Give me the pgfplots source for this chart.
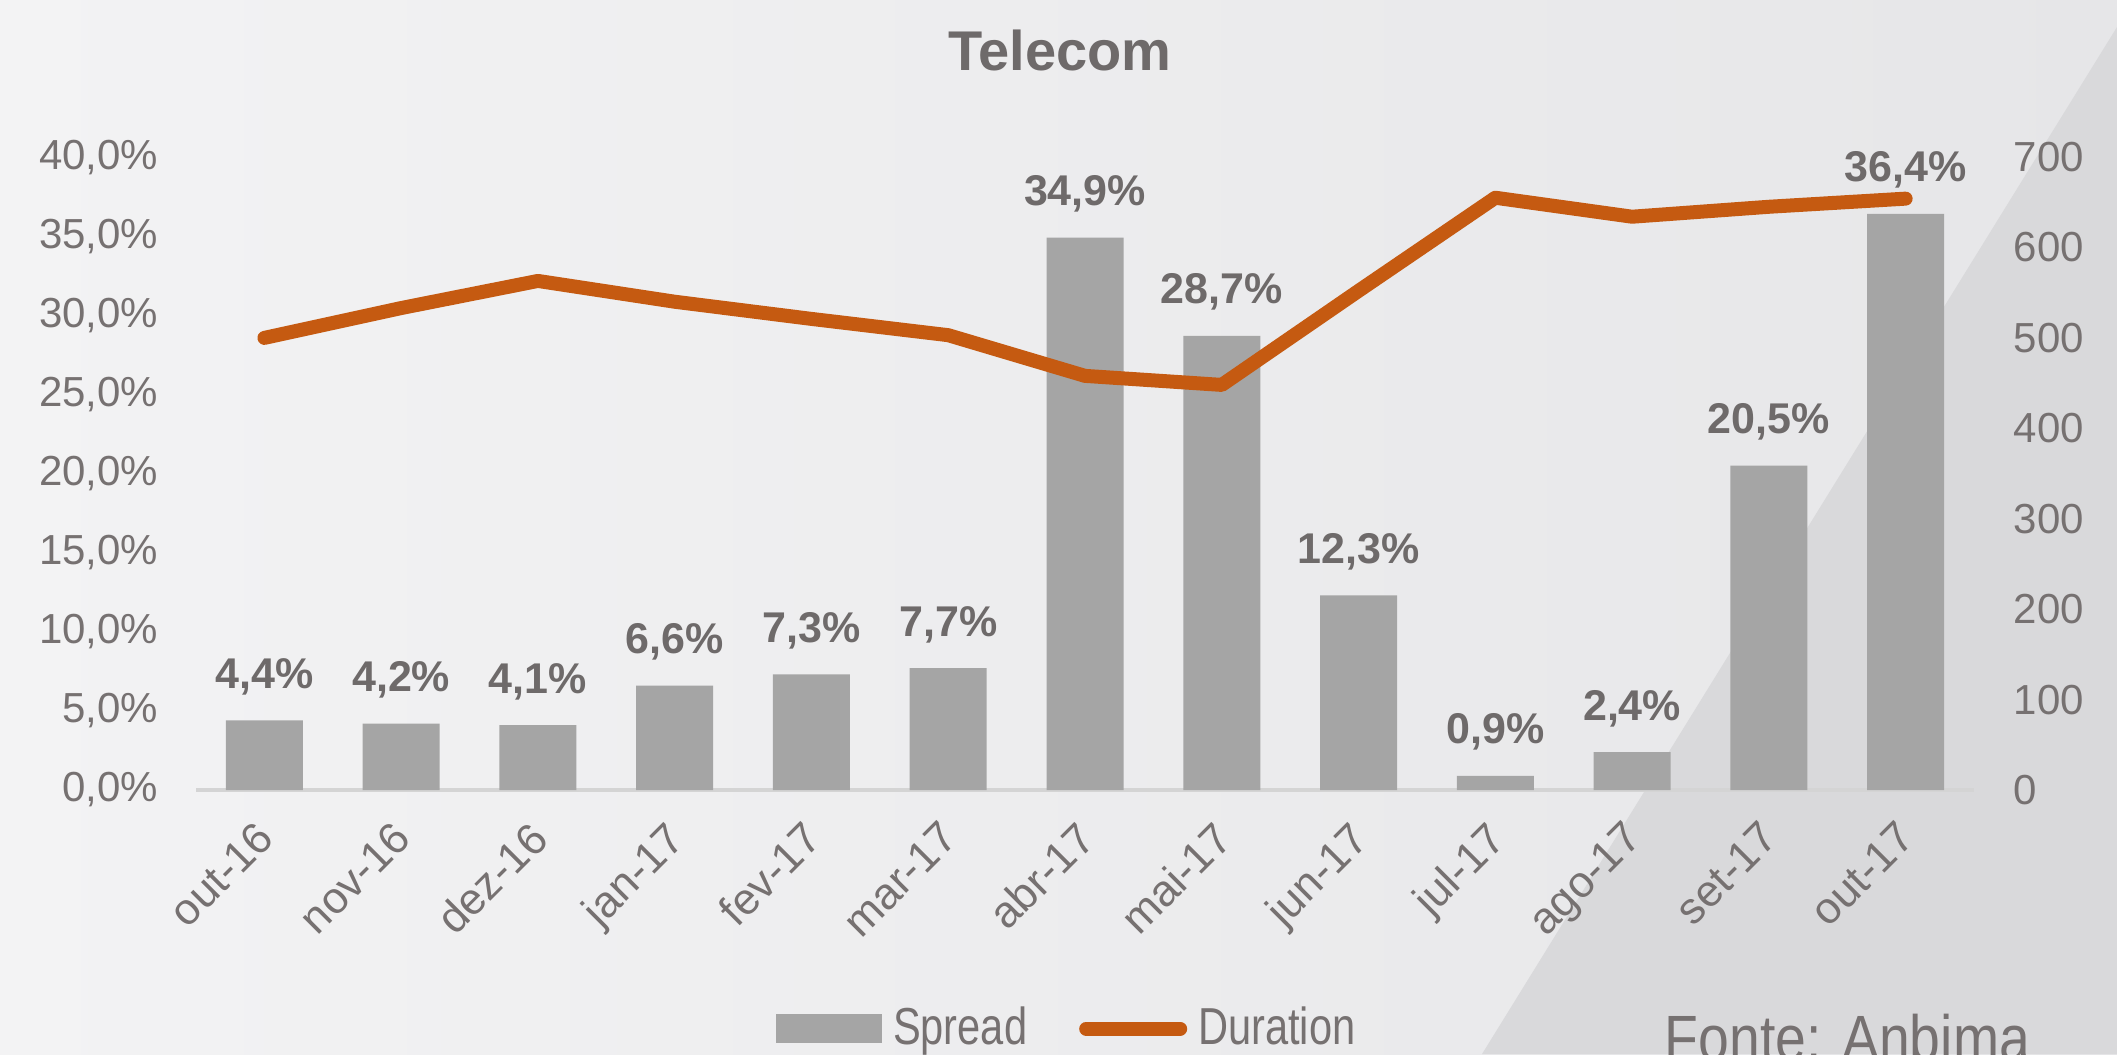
\documentclass[border=0pt]{standalone}
\usepackage{fontspec}
\setmainfont{Liberation Sans}
\usepackage{pgfplots}
\pgfplotsset{compat=1.18}
\definecolor{barcol}{HTML}{A5A5A5}
\definecolor{linecol}{HTML}{C55A11}
\definecolor{txtcol}{HTML}{767171}
\definecolor{lblcol}{HTML}{6E6A6A}
\definecolor{bgA}{HTML}{F3F3F4}
\definecolor{bgB}{HTML}{E6E6E8}
\definecolor{bgC}{HTML}{D9D9DB}
\definecolor{basecol}{HTML}{D4D4D4}
\pgfkeys{/pgf/number format/assume math mode=true}
\newcommand{\tickfont}{\fontsize{10.5}{12}\selectfont}
\newcommand{\xtickfont}{\fontsize{11}{13}\selectfont}
\newcommand{\lblfont}{\fontsize{10.75}{12}\selectfont}
\begin{document}
\begin{tikzpicture}[x=1pt,y=1pt]
\shade[left color=bgA, right color=bgB] (0,0) rectangle (529.25,263.5);
\fill[bgC] (370.5,0) -- (529.25,0) -- (529.25,256.75) -- cycle;
\begin{axis}[
  at={(49pt,66pt)}, anchor=south west, scale only axis,
  width=444.5pt, height=158.25pt,
  xmin=-0.5, xmax=12.5, ymin=0, ymax=40,
  axis x line=bottom, axis y line=left,
  x axis line style={-, draw=basecol, line width=1pt},
  y axis line style={draw=none},
  major tick length=0pt,
  xtick={0,...,12},
  xticklabels={out-16,nov-16,dez-16,jan-17,fev-17,mar-17,abr-17,mai-17,jun-17,jul-17,ago-17,set-17,out-17},
  xticklabel style={anchor=north east, inner sep=0pt, xshift=-2.5pt, yshift=-7pt, rotate=45, font=\xtickfont, text=txtcol},
  ytick={0,5,10,15,20,25,30,35,40},
  yticklabels={{0,0\%},{5,0\%},{10,0\%},{15,0\%},{20,0\%},{25,0\%},{30,0\%},{35,0\%},{40,0\%}},
  yticklabel style={anchor=east, inner sep=0pt, xshift=-9.25pt, font=\tickfont, text=txtcol},
  clip=false,
]
\addplot[ybar, bar width=19.25pt, fill=barcol, draw=none,
  point meta=y,
  nodes near coords={\pgfmathprintnumber[fixed,fixed zerofill,precision=1,use comma,assume math mode=true]{\pgfplotspointmeta}\%},
  every node near coord/.append style={anchor=base, yshift=8pt, inner sep=0pt, font=\bfseries\lblfont, text=lblcol},
] coordinates {
  (0,4.4) (1,4.2) (2,4.1) (3,6.6) (4,7.3) (5,7.7) (6,34.9)
  (7,28.7) (8,12.3) (9,0.9) (10,2.4) (11,20.5) (12,36.4)
};
\end{axis}
\begin{axis}[
  at={(49pt,66pt)}, anchor=south west, scale only axis,
  width=444.5pt, height=158.25pt,
  xmin=-0.5, xmax=12.5, ymin=0, ymax=700,
  axis x line=none, axis y line*=right,
  y axis line style={draw=none},
  major tick length=0pt,
  ytick={0,100,200,300,400,500,600,700},
  yticklabel style={anchor=west, inner sep=0pt, xshift=9.75pt, font=\tickfont, text=txtcol},
  clip=false,
  title={Telecom},
  title style={at={(axis description cs:0.486,1.099)}, anchor=base, inner sep=0pt, font=\bfseries\fontsize{14}{16}\selectfont, text=lblcol},
  legend columns=2,
  legend style={at={(axis description cs:0.326,-0.377)}, anchor=west, draw=none, fill=none, inner sep=0pt,
    font=\fontsize{13}{15}\selectfont, text=txtcol,
    nodes={inner sep=0pt},
    /tikz/every odd column/.append style={column sep=2.75pt},
    /tikz/every even column/.append style={column sep=13pt}},
]
\addlegendimage{legend image code/.code={\fill[barcol] (0pt,-3.4pt) rectangle (26pt,3.4pt);}}
\addlegendentry{\scalebox{0.8}[1]{Spread}}
\addplot[linecol, line width=3.5pt, line join=round, line cap=round,
  legend image code/.code={\draw[linecol, line width=3.5pt, line cap=round] (1.75pt,0pt) -- (25.25pt,0pt);}]
coordinates {
  (0,500) (1,533) (2,563) (3,540) (4,521) (5,503) (6,458)
  (7,448) (8,552) (9,655) (10,634) (11,645) (12,654)
};
\addlegendentry{\scalebox{0.8}[1]{Duration}}
\end{axis}
\node[overlay, anchor=base west, inner sep=0pt, font=\fontsize{16}{18}\selectfont, text=txtcol] at (416,-1.7) {\scalebox{0.865}[1]{Fonte: Anbima}};
\end{tikzpicture}
\end{document}
